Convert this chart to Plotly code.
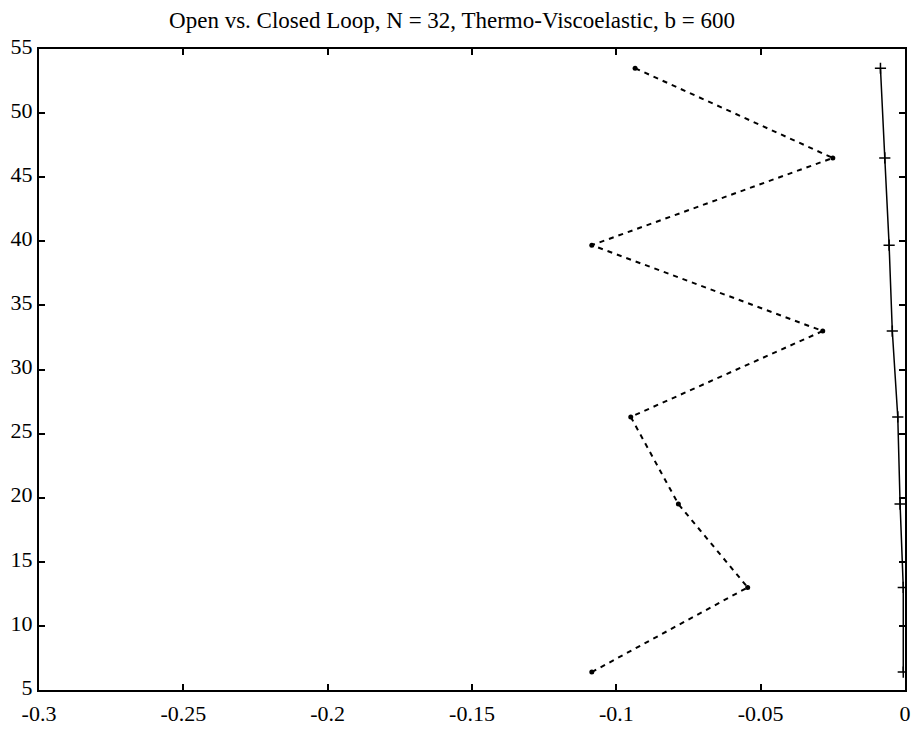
import plotly.graph_objects as go

# Open-loop (dashed) series
open_x = [-0.1085, -0.0545, -0.0785, -0.0950, -0.0285, -0.1085, -0.0250, -0.0935]
open_y = [6.4, 13.0, 19.5, 26.3, 33.0, 39.7, 46.5, 53.5]

# Closed-loop (solid with + markers)
closed_x = [-0.0006, -0.0006, -0.0017, -0.0025, -0.0044, -0.0055, -0.0070, -0.0085]
closed_y = [6.4, 13.0, 19.5, 26.3, 33.0, 39.7, 46.5, 53.5]

x_ticks = [-0.3, -0.25, -0.2, -0.15, -0.1, -0.05, 0]
x_tick_labels = ["-0.3", "-0.25", "-0.2", "-0.15", "-0.1", "-0.05", "0"]
y_ticks = [5, 10, 15, 20, 25, 30, 35, 40, 45, 50, 55]

title_text = "Open vs. Closed Loop, N = 32, Thermo-Viscoelastic, b = 600"

fig = go.Figure()
fig.add_trace(go.Scatter(
    x=open_x, y=open_y, mode="lines+markers",
    line=dict(color="black", width=2, dash="5px,5px"),
    marker=dict(color="black", size=5, symbol="circle"),
    showlegend=False,
))
fig.add_trace(go.Scatter(
    x=closed_x, y=closed_y, mode="lines+markers",
    line=dict(color="black", width=1.5),
    marker=dict(color="black", size=8, symbol="cross-thin", line=dict(color="black", width=1.5)),
    showlegend=False,
))

axis_common = dict(
    showgrid=False, zeroline=False, showline=True, linecolor="black", linewidth=2,
    mirror="ticks", ticks="inside", ticklen=6, tickwidth=1.5, tickcolor="black",
    tickfont=dict(family="Liberation Serif", size=22, color="black"),
)

fig.update_layout(
    width=916, height=729,
    margin=dict(l=39, r=11, t=49, b=39, autoexpand=False),
    paper_bgcolor="white", plot_bgcolor="white",
    title=dict(text=title_text, x=452 / 916, xanchor="center", y=1 - 20 / 729, yanchor="middle",
               font=dict(family="Liberation Serif", size=23, color="black")),
    xaxis=dict(range=[-0.3, 0], tickvals=x_ticks, ticktext=x_tick_labels,
               ticklabelstandoff=3, **axis_common),
    yaxis=dict(range=[5, 55], tickvals=y_ticks, ticklabelstandoff=0, ticklabelshift=-3,
               **axis_common),
)

fig.write_html(
    "out.html",
    config={"displayModeBar": False},
    post_script="document.body.style.margin='0';document.body.style.overflow='hidden';",
)
